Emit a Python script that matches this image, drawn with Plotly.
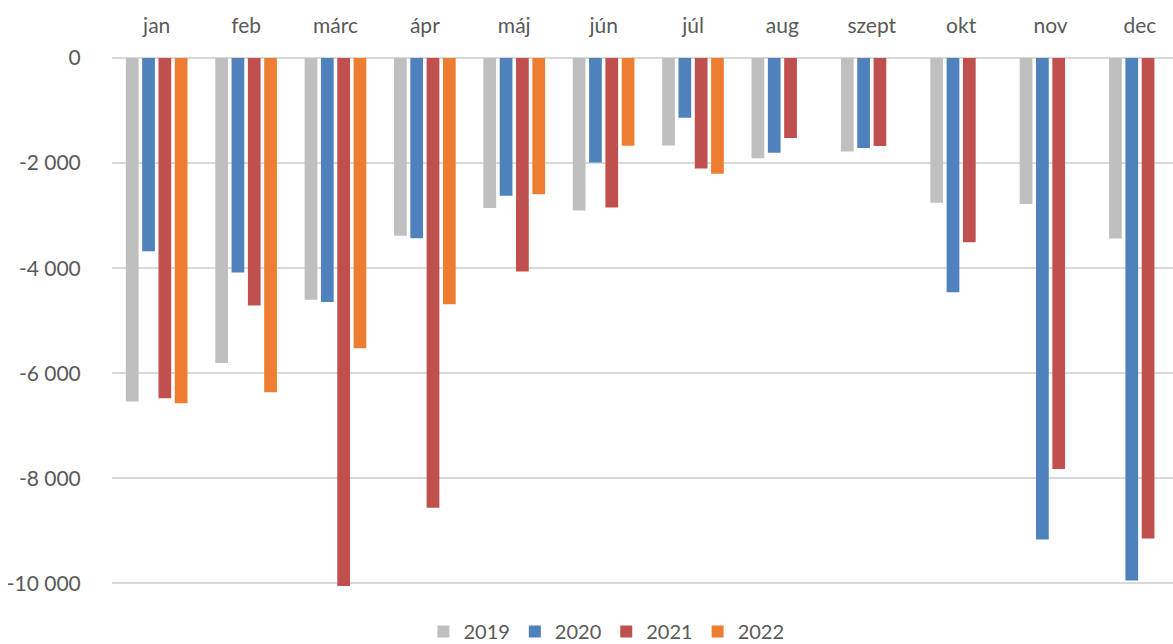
import plotly.graph_objects as go

months = ["jan", "feb", "márc", "ápr", "máj", "jún", "júl", "aug", "szept", "okt", "nov", "dec"]
years = ["2019", "2020", "2021", "2022"]

v2019 = [-6540, -5805, -4600, -3385, -2855, -2905, -1665, -1910, -1778, -2755, -2780, -3437]
v2020 = [-3680, -4083, -4645, -3430, -2620, -1990, -1137, -1803, -1715, -4461, -9167, -9946]
v2021 = [-6476, -4710, -10050, -8559, -4062, -2846, -2102, -1524, -1676, -3505, -7824, -9146]
v2022 = [-6571, -6362, -5526, -4687, -2595, -1671, -2203, None, None, None, None, None]

colors = ["#BFBFBF", "#4F81BD", "#C0504D", "#ED7D31"]

ytick_vals = [0, -2000, -4000, -6000, -8000, -10000]
ytick_text = ["0", "-2 000", "-4 000", "-6 000", "-8 000", "-10 000"]

FONT = "Lato, 'Open Sans', sans-serif"
TXT = "#595959"

fig = go.Figure()
for name, vals, col in zip(years, [v2019, v2020, v2021, v2022], colors):
    fig.add_trace(go.Bar(x=months, y=vals, name=name, marker_color=col,
                         marker_line_width=0))

fig.update_layout(
    width=1173, height=644,
    margin=dict(l=112, r=0, t=57.5, b=57.5, autoexpand=False),
    paper_bgcolor="white", plot_bgcolor="white",
    barmode="group", bargap=0.27, bargroupgap=0.22,
    font=dict(family=FONT, size=21, color=TXT),
    showlegend=True,
    legend=dict(orientation="h", x=0.466, xanchor="center", y=-0.086, yanchor="middle",
                font=dict(family=FONT, size=20, color=TXT), itemwidth=30,
                traceorder="normal"),
)
fig.update_xaxes(side="top", range=[-0.5, 11.37], showgrid=False, showline=False,
                 automargin=False,
                 ticks="outside", ticklen=16, tickcolor="rgba(0,0,0,0)",
                 tickfont=dict(family=FONT, size=21, color=TXT))
fig.update_yaxes(range=[-10050, 0], tickvals=ytick_vals, ticktext=ytick_text,
                 automargin=False,
                 showgrid=True, gridcolor="#D9D9D9", gridwidth=1.5,
                 zeroline=True, zerolinecolor="#D9D9D9", zerolinewidth=1.5,
                 showline=False, ticks="outside", ticklen=26, tickcolor="rgba(0,0,0,0)",
                 tickfont=dict(family=FONT, size=21, color=TXT))

fig.write_html("out.html", config={"displayModeBar": False},
               post_script="document.body.style.margin='0';document.body.style.overflow='hidden';")
